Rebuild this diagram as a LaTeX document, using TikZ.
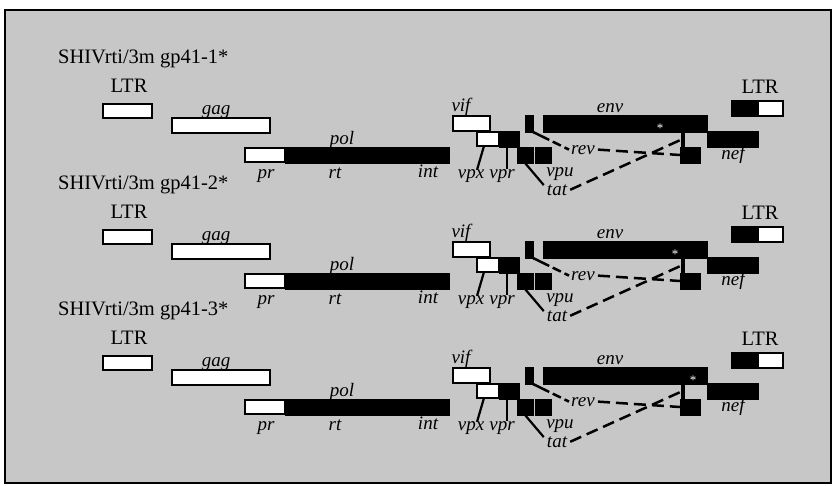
\documentclass[tikz,border=0pt]{standalone}
\usepackage{fontspec}
\setmainfont{Liberation Serif}
\definecolor{bg}{gray}{0.78}
\newcommand{\gbox}[6]{\node[#2, minimum width={(#5)-(#3)}, minimum height={(#6)-(#4)}] (#1) at ({((#3)+(#5))/2},{((#4)+(#6))/2}) {};}
\tikzset{
  wbox/.style={draw=black, fill=white, line width=1.8pt, inner sep=0pt, outer sep=0pt},
  bbox/.style={draw=black, fill=black, line width=0.4pt, inner sep=0pt, outer sep=0pt},
  rlab/.style={font=\fontsize{20.5}{22}\selectfont, inner sep=0pt, anchor=base},
  ilab/.style={font=\fontsize{19}{21}\selectfont\itshape, inner sep=0pt, anchor=base},
  solidln/.style={line width=2.2pt},
  dashln/.style={line width=2.5pt, dash pattern=on 12pt off 6pt},
  revln/.style={line width=2.5pt, dash pattern=on 18pt off 4pt on 9pt off 4pt},
  starlab/.style={font=\fontsize{13}{13}\selectfont, text=white, inner sep=0pt, anchor=base}
}
\begin{document}
\begin{tikzpicture}[x=1pt,y=-1pt]
\useasboundingbox (0,0) rectangle (835,485);
\fill[white] (0,0) rectangle (835,485);
\draw[line width=1.4pt, fill=bg] (5,10) rectangle (831,483);
\foreach \b/\dy/\sx in {1/252/660, 2/126/675, 3/0/693}{
\begin{scope}[yshift=\dy pt]
  % title
  \node[rlab, anchor=base west] (title\b) at (58,315) {SHIVrti/3m gp41-\b*};
  % left LTR
  \node[rlab] (ltrLlab\b) at (129,344) {LTR};
  \gbox{ltrL\b}{wbox}{103}{356}{152}{370}
  % gag
  \node[ilab] (gaglab\b) at (216,366) {gag};
  \gbox{gag\b}{wbox}{172}{370}{270}{385}
  % pol
  \node[ilab] (pollab\b) at (342,396) {pol};
  \gbox{polw\b}{wbox}{245}{400}{285}{414}
  \gbox{polb\b}{bbox}{285}{399}{449}{415}
  \node[ilab] (prlab\b) at (266,430) {pr};
  \node[ilab] (rtlab\b) at (335,430) {rt};
  \node[ilab] (intlab\b) at (428,429) {int};
  % vif
  \node[ilab] (viflab\b) at (461,363) {vif};
  \gbox{vif\b}{wbox}{453}{368}{490}{383}
  % vpx / vpr
  \gbox{vpxw\b}{wbox}{477}{384}{499}{398}
  \gbox{vpxb\b}{bbox}{499}{383}{519}{399}
  \node[ilab] (vpxlab\b) at (471,430) {vpx};
  \node[ilab] (vprlab\b) at (502,430) {vpr};
  \draw[solidln] ([xshift=-4pt]vpxw\b.south) -- ([xshift=6pt,yshift=-1pt]vpxlab\b.north);
  \draw[solidln] ([xshift=-2pt]vpxb\b.south) -- ([xshift=-2pt]vpxb\b.south |- vprlab\b.north);
  % third row small boxes
  \gbox{tb\b}{bbox}{517}{399}{533}{415}
  \gbox{ub\b}{bbox}{535}{399}{551}{415}
  \node[ilab] (vpulab\b) at (560,428) {vpu};
  % env
  \node[ilab] (envlab\b) at (610,364) {env};
  \gbox{envs\b}{bbox}{525}{367}{533}{384}
  \gbox{env\b}{bbox}{543}{367}{707}{384}
  \node[starlab] (star\b) at (\sx,384) {*};
  % nef
  \gbox{nef\b}{bbox}{707}{383}{758}{399}
  \node[ilab] (neflab\b) at (733,411) {nef};
  % rev / tat second exon
  \gbox{vl\b}{bbox}{681.5}{384}{684.5}{399}
  \gbox{rt\b}{bbox}{680}{399}{700}{415}
  \node[ilab] (revlab\b) at (583,406) {rev};
  \node[ilab] (tatlab\b) at (557,447) {tat};
  \draw[revln] (envs\b.south east) -- ([xshift=-2pt]revlab\b.west);
  \draw[dashln] ([xshift=3pt]revlab\b.east) -- (rt\b.west);
  \draw[solidln] (tb\b.south) -- ([xshift=-3pt,yshift=-1pt]tatlab\b.north west);
  \draw[dashln] ([xshift=3pt]tatlab\b.east) -- (vl\b.west);
  % right LTR
  \node[rlab] (ltrRlab\b) at (760,345) {LTR};
  \gbox{ltrR\b}{wbox}{732}{353}{783}{368}
  \gbox{ltrRb\b}{bbox}{731}{352.5}{758}{368.5}
\end{scope}
}
\end{tikzpicture}
\end{document}
